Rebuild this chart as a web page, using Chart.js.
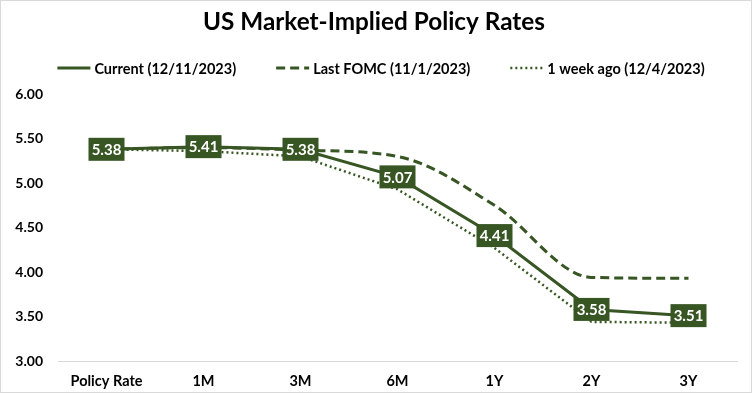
<!DOCTYPE html>
<html>
<head>
<meta charset="utf-8">
<script src="https://cdn.jsdelivr.net/npm/chart.js@4"></script>
<style>
  html, body { margin: 0; padding: 0; background: #fff; }
  #wrap { width: 752px; height: 393px; box-sizing: border-box; border: 1px solid #d9d9d9; position: relative; }
  canvas { display: block; }
</style>
</head>
<body>
<div id="wrap"><canvas id="c" width="750" height="391"></canvas></div>
<script>
const tenors = ["Policy Rate", "1M", "3M", "6M", "1Y", "2Y", "3Y"];
const current = [5.38, 5.41, 5.38, 5.07, 4.41, 3.58, 3.51];
const lastFomc = [5.38, 5.40, 5.37, 5.30, 4.75, 3.94, 3.93];
const weekAgo = [5.38, 5.36, 5.30, 4.93, 4.27, 3.44, 3.43];
const yTicks = [3.0, 3.5, 4.0, 4.5, 5.0, 5.5, 6.0];

const GREEN = "#375623";
const FONT = "Lato, 'Open Sans', sans-serif";

// white-on-green value boxes for the current curve
const boxLabels = {
  id: "boxLabels",
  afterDatasetsDraw(chart) {
    const meta = chart.getDatasetMeta(0);
    const ctx = chart.ctx;
    ctx.save();
    ctx.font = `bold 15px ${FONT}`;
    ctx.textAlign = "center";
    ctx.textBaseline = "middle";
    meta.data.forEach((pt, i) => {
      const w = 36, h = 23;
      ctx.fillStyle = GREEN;
      ctx.fillRect(pt.x - w / 2, pt.y - h / 2, w, h);
      ctx.fillStyle = "#ffffff";
      ctx.fillText(current[i].toFixed(2), pt.x, pt.y + 1);
    });
    ctx.restore();
  }
};

// legend row under the title, line samples keep the dataset dash
const lineLegend = {
  id: "lineLegend",
  afterDraw(chart) {
    const ctx = chart.ctx;
    const sample = 33, gap = 4, itemGap = 40, y = 67;
    ctx.save();
    ctx.font = `bold 14.5px ${FONT}`;
    ctx.textBaseline = "middle";
    const items = chart.data.datasets.map((ds) => ({ ds, tw: ctx.measureText(ds.label).width }));
    const total = items.reduce((s, it) => s + sample + gap + it.tw, 0) + itemGap * (items.length - 1);
    let x = 380 - total / 2;
    items.forEach(({ ds, tw }) => {
      ctx.strokeStyle = ds.borderColor;
      ctx.lineWidth = ds.borderWidth;
      ctx.setLineDash(ds.borderDash || []);
      ctx.beginPath();
      ctx.moveTo(x, y);
      ctx.lineTo(x + sample, y);
      ctx.stroke();
      ctx.setLineDash([]);
      ctx.fillStyle = "#000";
      ctx.fillText(ds.label, x + sample + gap, y + 1);
      x += sample + gap + tw + itemGap;
    });
    ctx.restore();
  }
};

new Chart(document.getElementById("c"), {
  type: "line",
  data: {
    labels: tenors,
    datasets: [
      {
        label: "Current (12/11/2023)",
        data: current,
        borderColor: GREEN,
        borderWidth: 3,
        pointRadius: 0,
        tension: 0,
        order: 0
      },
      {
        label: "Last FOMC (11/1/2023)",
        data: lastFomc,
        borderColor: GREEN,
        borderWidth: 3,
        borderDash: [9, 5],
        pointRadius: 0,
        cubicInterpolationMode: "monotone",
        order: 1
      },
      {
        label: "1 week ago (12/4/2023)",
        data: weekAgo,
        borderColor: GREEN,
        borderWidth: 2.5,
        borderDash: [2, 3],
        pointRadius: 0,
        tension: 0,
        order: 2
      }
    ]
  },
  options: {
    responsive: false,
    animation: false,
    layout: { padding: { left: 10, right: 14, top: 0, bottom: 0 } },
    plugins: {
      title: {
        display: true,
        text: "US Market-Implied Policy Rates",
        color: "#000",
        font: { family: FONT, size: 24.3, weight: "bold", lineHeight: 1.2 },
        padding: { top: 7, bottom: 57 }
      },
      legend: { display: false },
      tooltip: { enabled: false }
    },
    scales: {
      x: {
        offset: true,
        afterFit: (s) => { s.height = 31; },
        grid: { display: false, drawTicks: false, offset: true },
        border: { color: "#d9d9d9", width: 1 },
        ticks: { color: "#000", padding: 12, font: { family: FONT, size: 14.5, weight: "bold" } }
      },
      y: {
        min: 3,
        max: 6,
        afterBuildTicks: (s) => { s.ticks = yTicks.map((v) => ({ value: v })); },
        afterFit: (s) => { s.width = 47; },
        grid: { display: false, drawTicks: false },
        border: { display: false },
        ticks: { color: "#000", padding: 15, callback: (v) => v.toFixed(2), font: { family: FONT, size: 14, weight: "bold" } }
      }
    }
  },
  plugins: [boxLabels, lineLegend]
});
</script>
</body>
</html>
